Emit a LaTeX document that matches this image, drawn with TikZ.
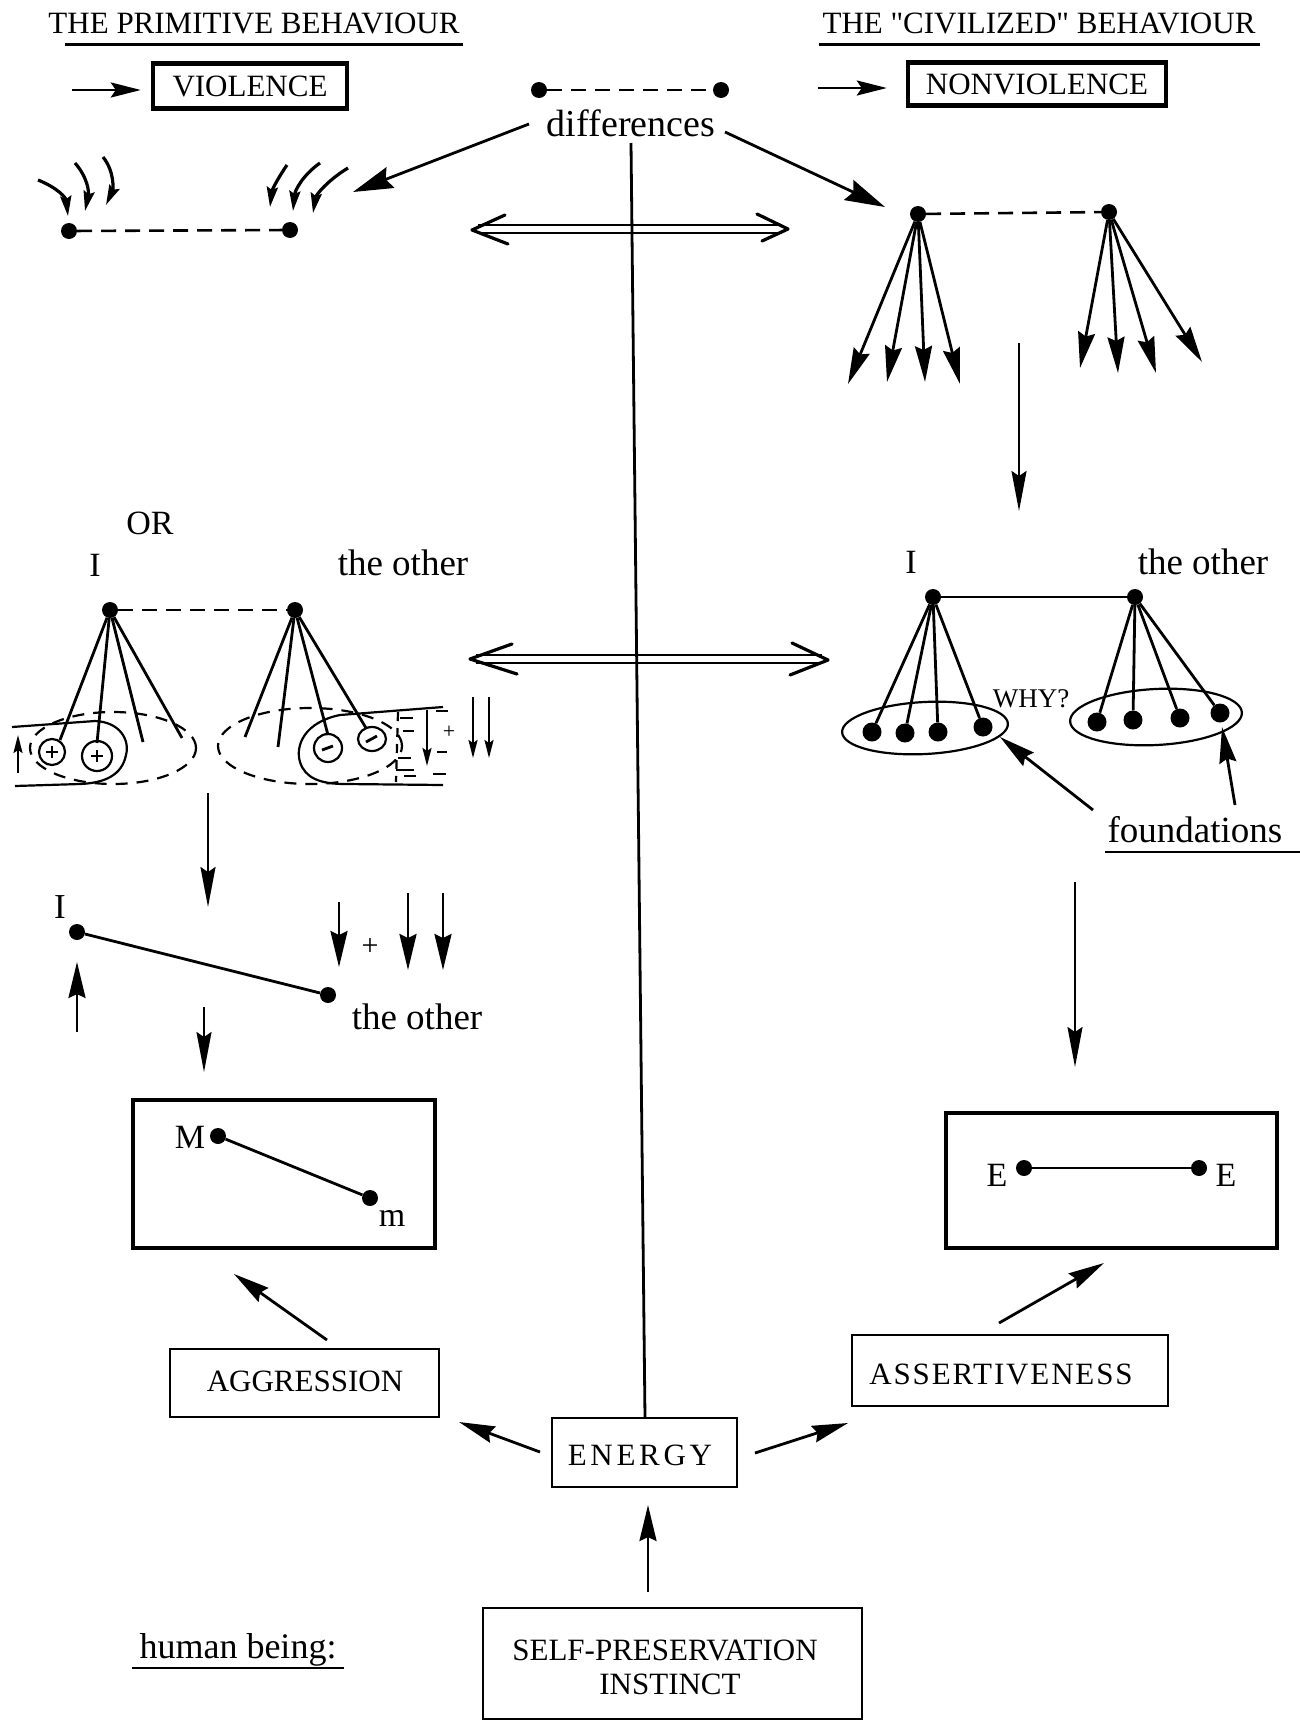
\documentclass[tikz,border=0pt]{standalone}
\usepackage{fontspec}
\setmainfont{Liberation Serif}[Ligatures=TeXOff]
\usetikzlibrary{arrows.meta}
\newcommand\fsz[1]{\fontsize{#1}{#1}\selectfont}
\begin{document}
\begin{tikzpicture}[x=1pt,y=-1pt,
  ln/.style={line width=2.8pt},
  tln/.style={line width=2.2pt},
  arr/.style={-{Stealth[length=40pt,width=22pt,inset=5pt]}},
  marr/.style={-{Stealth[length=36pt,width=17pt,inset=4pt]}},
  harr/.style={-{Stealth[length=30pt,width=15pt,inset=5pt]}},
  varr/.style={-{Stealth[length=40pt,width=15pt,inset=5pt]}},
  sarr/.style={-{Stealth[length=18pt,width=9pt,inset=3pt]}},
  carr/.style={-{Stealth[length=20pt,width=11pt,inset=3pt]}},
  pdot/.style={circle,fill=black,inner sep=0pt,minimum size=16pt},
  bdot/.style={circle,fill=black,inner sep=0pt,minimum size=19pt},
  txt/.style={inner sep=0pt},
  dsh/.style={line width=2.6pt,dash pattern=on 15pt off 9pt},
  tbox/.style={draw,line width=4.4pt,inner sep=0pt},
  nbox/.style={draw,line width=2.8pt,inner sep=0pt},
  chev/.style={line width=3.2pt,line join=round,line cap=round},
]
\useasboundingbox (0,0) rectangle (1300,1721);
\fill[white] (0,0) rectangle (1300,1721);

% ---------- headers ----------
\node[txt,font=\fsz{31}] (hp) at (254,23) {THE PRIMITIVE BEHAVIOUR};
\draw[line width=3pt] (65,44) -- (463,44);
\node[txt,font=\fsz{31}] (hc) at (1039,23) {THE "CIVILIZED" BEHAVIOUR};
\draw[line width=3pt] (819,44) -- (1260,44);

\node[tbox,minimum width=194pt,minimum height=45pt,font=\fsz{31}] (viol) at (250,86) {VIOLENCE};
\coordinate (va) at (72,90);
\draw[ln,harr,shorten >=10pt] (va) -- (viol.west |- va);
\node[tbox,minimum width=258pt,minimum height=43pt,font=\fsz{31}] (nviol) at (1037,84) {NONVIOLENCE};
\coordinate (na) at (818,88);
\draw[ln,harr,shorten >=19pt] (na) -- (nviol.west |- na);

% ---------- differences ----------
\node[pdot] (d1) at (539,90) {};
\node[pdot] (d2) at (721,90) {};
\draw[dsh] (d1) -- (d2);
\node[txt,font=\fsz{38}] (diff) at (631,123) {differences};
\coordinate (dl) at (529,124);
\coordinate (dlt) at (353,192);
\draw[ln,arr] (dl) -- (dlt);
\coordinate (dr) at (725,132);
\coordinate (drt) at (885,207);
\draw[ln,arr] (dr) -- (drt);

% central vertical line
\coordinate (vt) at (631,143);
\draw[ln] (vt) -- (645,1418);

% ---------- primitive top ----------
\node[pdot] (p1) at (69,231) {};
\node[pdot] (p2) at (290,230) {};
\draw[dsh] (p1) -- (p2);
\draw[line width=3.2pt,carr] (38,180) .. controls (58,188) and (66,198) .. (68,216);
\draw[line width=3.2pt,carr] (75,163) .. controls (88,178) and (89,192) .. (85,211);
\draw[line width=3.2pt,carr] (103,157) .. controls (115,172) and (113,190) .. (106,205);
\draw[line width=3.2pt,carr] (287,165) .. controls (278,178) and (272,190) .. (270,207);
\draw[line width=3.2pt,carr] (320,163) .. controls (303,175) and (295,190) .. (293,211);
\draw[line width=3.2pt,carr] (348,168) .. controls (328,180) and (316,195) .. (313,213);

% ---------- double arrows ----------
\draw[tln] (478,225) -- (782,225);
\draw[tln] (478,233) -- (782,233);
\draw[chev] (505,215) -- (472,230) -- (508,244);
\draw[chev] (757,214) -- (788,229) -- (762,241);

\draw[tln] (476,655) -- (822,655);
\draw[tln] (476,663) -- (822,663);
\draw[chev] (512,644) -- (470,659) -- (517,674);
\draw[chev] (792,643) -- (828,660) -- (790,675);

% ---------- civilized top ----------
\node[pdot] (cl) at (918,214) {};
\node[pdot] (cr) at (1109,212) {};
\draw[dsh] (cl) -- (cr);
\foreach \x/\y in {848/384, 887/382, 925/382, 960/384}
  \draw[ln,marr] (cl) -- (\x,\y);
\foreach \x/\y in {1080/368, 1118/373, 1156/373, 1202/362}
  \draw[ln,marr] (cr) -- (\x,\y);
\coordinate (rv1) at (1019,343);
\coordinate (rv2) at (1019,511);
\draw[tln,varr] (rv1) -- (rv2);

% ---------- OR section (left) ----------
\node[txt,font=\fsz{34}] at (150,523) {OR};
\node[txt,font=\fsz{34}] at (95,565) {I};
\node[txt,font=\fsz{37}] at (403,563) {the other};
\node[pdot] (oi) at (110,610) {};
\node[pdot] (oo) at (295,610) {};
\draw[dsh] (oi) -- (oo);
% dashed outlines
\draw[line width=2.2pt,dash pattern=on 12pt off 9pt] (113,748) ellipse [x radius=83pt, y radius=36pt];
\draw[line width=2.2pt,dash pattern=on 12pt off 9pt] (310,746) ellipse [x radius=92pt, y radius=38pt];
% solid blobs
\draw[tln] (12,727) -- (95,721) .. controls (120,722) and (130,740) .. (126,755)
   .. controls (122,775) and (105,783) .. (80,784) -- (15,786);
\draw[tln] (443,707) -- (340,715) .. controls (305,722) and (295,745) .. (300,762)
   .. controls (305,778) and (320,784) .. (345,784) -- (443,785);
% short dashes texture
\foreach \a/\b/\c in {400/413/718, 403/414/731, 398/411/758, 404/416/776, 396/414/770, 436/448/711, 437/447/752, 433/446/774}
  \draw[tln] (\a,\c) -- (\b,\c);
\draw[tln,dash pattern=on 9pt off 7pt] (398,712) -- (396,782);
% fan lines
\foreach \x/\y in {60/740, 97/743, 143/742, 182/738}
  \draw[ln] (oi) -- (\x,\y);
\foreach \x/\y in {245/737, 278/747, 328/735, 366/728}
  \draw[ln] (oo) -- (\x,\y);
% plus circles
\draw[tln] (52,752) circle [radius=13pt];
\draw[tln] (97,756) circle [radius=15pt];
\draw[line width=2.8pt] (46,752) -- (58,752) (52,746) -- (52,758);
\draw[line width=2.8pt] (91,756) -- (103,756) (97,750) -- (97,762);
% minus circles
\draw[tln] (328,748) circle [radius=14pt];
\draw[tln] (372,739) ellipse [x radius=14pt, y radius=12pt];
\draw[line width=2.8pt] (322,750) -- (333,746);
\draw[line width=2.8pt] (366,742) -- (377,736);
% small arrows
\draw[tln,sarr] (18,773) -- (18,735);
\draw[tln,sarr] (427,710) -- (427,766);
\node[txt,font=\fsz{22}] at (449,732) {+};
\draw[tln,sarr] (473,697) -- (473,758);
\draw[tln,sarr] (489,697) -- (489,758);

% ---------- right middle ----------
\node[txt,font=\fsz{34}] at (911,562) {I};
\node[txt,font=\fsz{37}] at (1203,562) {the other};
\node[pdot] (ri) at (933,597) {};
\node[pdot] (ro) at (1135,597) {};
\draw[tln] (ri) -- (ro);
\draw[tln] (925,728) ellipse [x radius=83pt, y radius=26pt, rotate=3];
\draw[tln] (1156,717) ellipse [x radius=86pt, y radius=28pt, rotate=3];
\foreach \n/\x/\y in {a/872/732, b/905/733, c/938/732, d/983/727}{
  \node[bdot] (l\n) at (\x,\y) {};
  \draw[ln] (ri) -- (l\n);
}
\foreach \n/\x/\y in {a/1097/722, b/1133/720, c/1180/718, d/1220/713}{
  \node[bdot] (r\n) at (\x,\y) {};
  \draw[ln] (ro) -- (r\n);
}
\node[txt,font=\fsz{27}] at (1031,699) {WHY?};
\node[txt,font=\fsz{37}] (fnd) at (1195,830) {foundations};
\draw[tln] (1105,852) -- (1300,852);
\draw[ln,marr] (1093,810) -- (1000,737);
\draw[ln,marr] (1235,805) -- (1222,727);

% ---------- lower left ----------
\draw[tln,varr] (208,793) -- (208,907);
\node[txt,font=\fsz{35}] at (60,907) {I};
\node[pdot] (li) at (77,932) {};
\node[pdot] (lo) at (328,995) {};
\draw[ln] (li) -- (lo);
\node[txt,font=\fsz{37}] at (417,1017) {the other};
\draw[ln,marr] (77,1032) -- (77,962);
\draw[ln,marr] (339,902) -- (339,967);
\node[txt,font=\fsz{30}] at (370,947) {+};
\draw[ln,marr] (408,893) -- (408,970);
\draw[ln,marr] (443,893) -- (443,970);
\draw[tln,varr] (204,1007) -- (204,1072);

\node[tbox,minimum width=302pt,minimum height=148pt] (mbox) at (284,1174) {};
\node[pdot] (mM) at (218,1136) {};
\node[pdot] (mm) at (370,1198) {};
\draw[ln] (mM) -- (mm);
\node[txt,font=\fsz{34}] at (190,1137) {M};
\node[txt,font=\fsz{34}] at (392,1218) {m};

\node[nbox,minimum width=269pt,minimum height=68pt] (agg) at (304.5,1383) {};
\node[txt,font=\fsz{31}] at (305,1381) {AGGRESSION};
\draw[ln,marr] (327,1340) -- (234,1274);

% ---------- lower right ----------
\draw[tln,varr] (1075,882) -- (1075,1067);
\node[tbox,minimum width=331pt,minimum height=135pt] (ebox) at (1111.5,1180.5) {};
\node[pdot] (e1) at (1024,1168) {};
\node[pdot] (e2) at (1199,1168) {};
\draw[tln] (e1) -- (e2);
\node[txt,font=\fsz{34}] at (997,1175) {E};
\node[txt,font=\fsz{34}] at (1226,1175) {E};

\node[nbox,minimum width=316pt,minimum height=71pt] (ass) at (1010,1370.5) {};
\node[txt,font=\fsz{31}\addfontfeatures{LetterSpace=6}] at (1001,1374) {ASSERTIVENESS};
\draw[ln,marr] (999,1323) -- (1104,1263);

% ---------- bottom ----------
\node[nbox,minimum width=185pt,minimum height=69pt] (en) at (644.5,1452.5) {};
\node[txt,font=\fsz{31}\addfontfeatures{LetterSpace=12}] at (640,1455) {ENERGY};
\draw[ln,marr] (540,1452) -- (459,1422);
\draw[ln,marr] (755,1453) -- (848,1423);

\node[nbox,minimum width=379pt,minimum height=111pt] (self) at (672.5,1663.5) {};
\node[txt,font=\fsz{31}] at (665,1650) {SELF-PRESERVATION};
\node[txt,font=\fsz{31}] at (670,1684) {INSTINCT};
\draw[ln,marr] (648,1592) -- (648,1505);

\node[txt,font=\fsz{36}] (hb) at (238,1650) {human being:};
\draw[tln] (132,1668) -- (344,1668);
\end{tikzpicture}
\end{document}
